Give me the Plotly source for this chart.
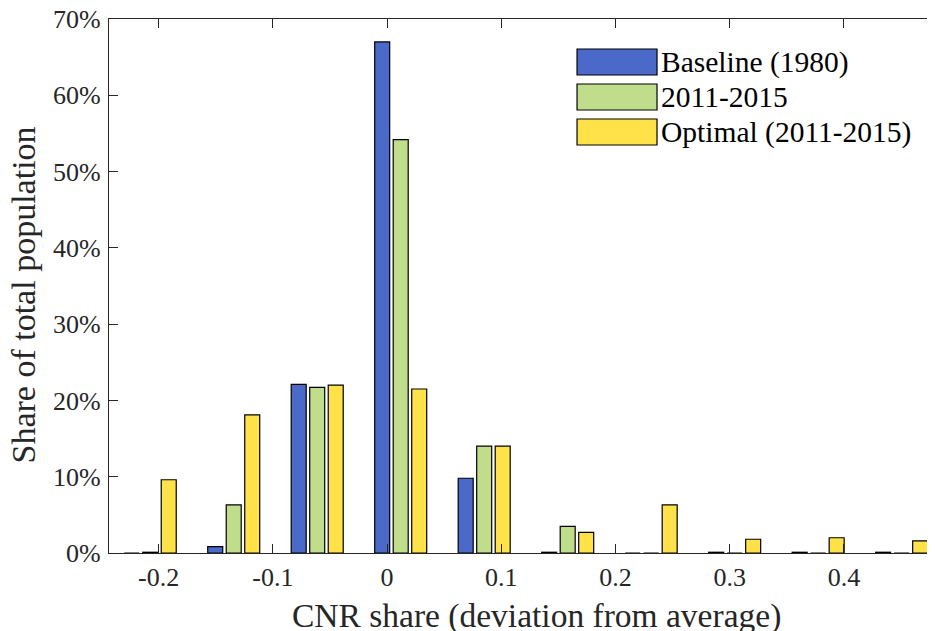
import plotly.graph_objects as go

# Data
bin_centers = [-0.2074, -0.1343, -0.0612, 0.0119, 0.0850, 0.1581, 0.2312, 0.3043, 0.3774, 0.4505]
baseline_1980 = [0.0, 0.0083, 0.221, 0.670, 0.098, 0.001, 0.0, 0.001, 0.001, 0.001]
period_2011_2015 = [0.001, 0.063, 0.217, 0.542, 0.140, 0.035, 0.0, 0.0, 0.0, 0.0]
optimal_2011_2015 = [0.096, 0.181, 0.220, 0.215, 0.140, 0.027, 0.063, 0.018, 0.020, 0.016]
series_names = ["Baseline (1980)", "2011-2015", "Optimal (2011-2015)"]
series_colors = ["#4a69c8", "#c0dd8c", "#ffe24a"]
x_ticks = [-0.2, -0.1, 0, 0.1, 0.2, 0.3, 0.4]
x_tick_labels = ["-0.2", "-0.1", "0", "0.1", "0.2", "0.3", "0.4"]
y_ticks = [0, 0.1, 0.2, 0.3, 0.4, 0.5, 0.6, 0.7]
y_tick_labels = ["0%", "10%", "20%", "30%", "40%", "50%", "60%", "70%"]
x_title = "CNR share (deviation from average)"
y_title = "Share of total population"

FONT = "Liberation Serif"
AX = "#262626"

fig = go.Figure()
for name, vals, col in zip(series_names, [baseline_1980, period_2011_2015, optimal_2011_2015], series_colors):
    fig.add_trace(go.Bar(
        x=bin_centers, y=vals, name=name,
        marker=dict(color=col, line=dict(color="black", width=1.2)),
        showlegend=False,
    ))

# custom legend (large swatches like the original)
leg_x0, leg_x1, text_x = 0.5612, 0.6571, 0.6595
leg_rows = [(0.9438, 0.8951), (0.8783, 0.8296), (0.8127, 0.7640)]
for (y1, y0), name, col in zip(leg_rows, series_names, series_colors):
    fig.add_shape(type="rect", xref="paper", yref="paper", x0=leg_x0, x1=leg_x1, y0=y0, y1=y1,
                  fillcolor=col, line=dict(color="black", width=1.2))
    fig.add_annotation(xref="paper", yref="paper", x=text_x, y=(y0 + y1) / 2, text=name,
                       showarrow=False, xanchor="left", yanchor="middle",
                       font=dict(family=FONT, size=29.5, color="black"))

# axis titles
fig.add_annotation(xref="paper", yref="paper", x=0.5126, y=-0.118, text=x_title,
                   showarrow=False, xanchor="center", yanchor="middle",
                   font=dict(family=FONT, size=33.5, color=AX))
fig.add_annotation(xref="paper", yref="paper", x=-0.1031, y=0.4822, text=y_title,
                   textangle=-90, showarrow=False, xanchor="center", yanchor="middle",
                   font=dict(family=FONT, size=34, color=AX))

fig.update_layout(
    width=935, height=631,
    margin=dict(l=101, r=0, t=11, b=86, autoexpand=False),
    paper_bgcolor="white", plot_bgcolor="white",
    barmode="group", bargap=0.335, bargroupgap=0.19,
    font=dict(family=FONT, color=AX),
)
fig.update_xaxes(
    range=[-0.2435, 0.4867], tickvals=x_ticks, ticktext=x_tick_labels,
    ticks="inside", ticklen=9, tickwidth=1.2, tickcolor=AX,
    showline=True, linecolor=AX, linewidth=1.3, mirror="ticks",
    showgrid=False, zeroline=False, automargin=False,
    tickfont=dict(family=FONT, size=26, color=AX), ticklabelstandoff=1,
    ticklabeloverflow="allow",
)
fig.update_yaxes(
    range=[0, 0.7], tickvals=y_ticks, ticktext=y_tick_labels,
    ticks="inside", ticklen=9, tickwidth=1.2, tickcolor=AX,
    showline=True, linecolor=AX, linewidth=1.3, mirror=False,
    showgrid=False, zeroline=False, automargin=False,
    tickfont=dict(family=FONT, size=26, color=AX), ticklabelstandoff=2,
    ticklabeloverflow="allow",
)
fig.write_html("out.html")
